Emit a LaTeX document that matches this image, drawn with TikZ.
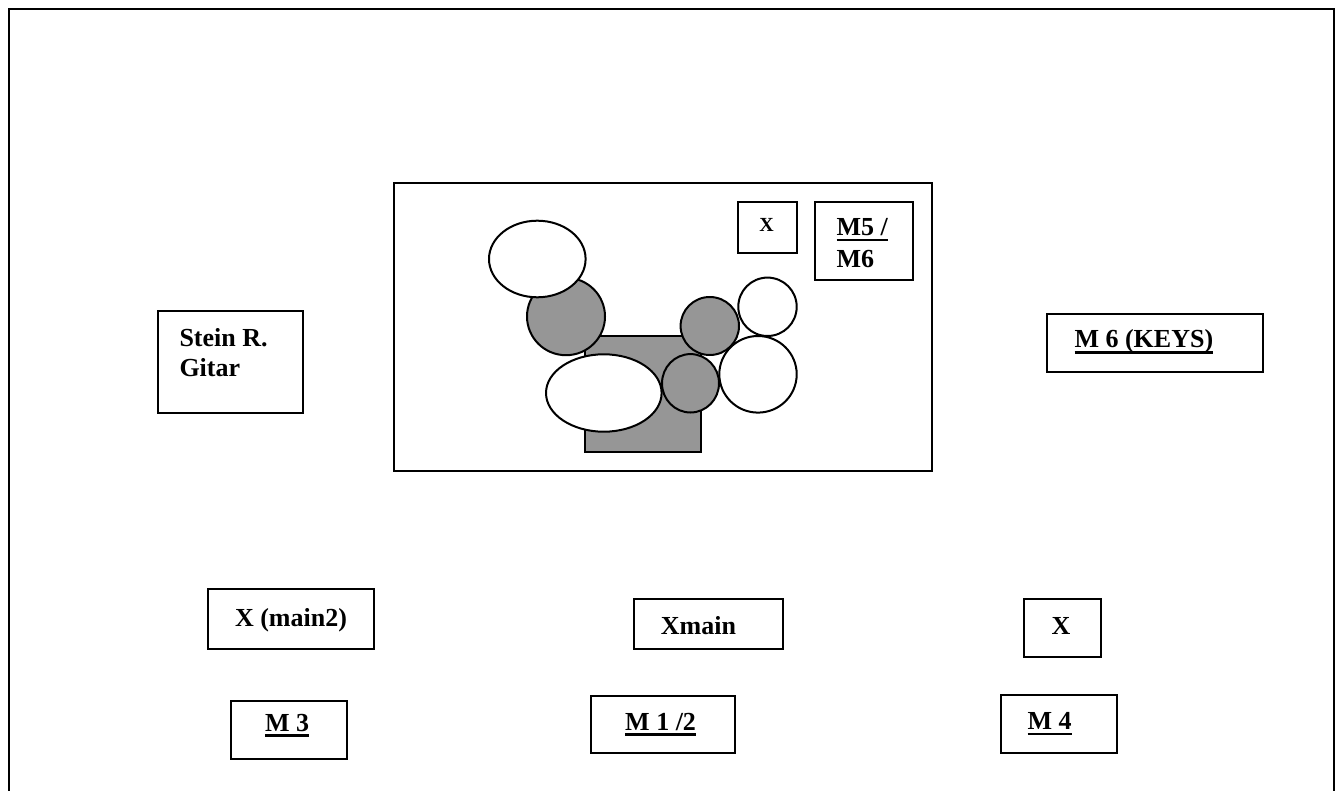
\documentclass[tikz,border=0pt]{standalone}
\usepackage{fontspec}
\setmainfont{Liberation Serif}
\definecolor{midgray}{HTML}{969696}
\newcommand\ulx[1]{\setbox0\hbox{#1}\rlap{\rule[-5.5pt]{\wd0}{2.2pt}}\box0}
\begin{document}
\begin{tikzpicture}[x=1pt,y=-1pt,
  box/.style={draw,line width=2pt,inner sep=0pt,rectangle},
  lbl/.style={inner sep=0pt,font=\fontsize{26}{30}\selectfont\bfseries},
  shp/.style={draw,line width=2pt}]
\useasboundingbox (0,0) rectangle (1343,791);
% outer frame
\draw[line width=2pt] (9.4,791) -- (9.4,9.5) -- (1334,9.5) -- (1334,791);
% stage
\node[box,minimum width=538.2pt,minimum height=287.2pt] (stage) at (662.6,327.1) {};
\filldraw[shp,fill=midgray] (585,336) rectangle (700.7,451.7);
\filldraw[shp,fill=midgray] (566,316.5) ellipse [x radius=39pt,y radius=38.7pt];
\filldraw[shp,fill=white] (537.3,259) ellipse [x radius=48.3pt,y radius=38.3pt];
\filldraw[shp,fill=white] (603.8,393) ellipse [x radius=57.8pt,y radius=38.7pt];
\filldraw[shp,fill=midgray] (709.8,326) ellipse [x radius=29.2pt,y radius=29pt];
\filldraw[shp,fill=midgray] (690.5,383.3) ellipse [x radius=28.5pt,y radius=29.2pt];
\filldraw[shp,fill=white] (767.5,306.8) ellipse [x radius=29.2pt,y radius=29.2pt];
\filldraw[shp,fill=white] (758,374.3) ellipse [x radius=38.7pt,y radius=38.3pt];
% boxes
\node[box,minimum width=58.7pt,minimum height=51.6pt] (xsmall) at (767.35,227.5) {};
\node[lbl,anchor=base,font=\fontsize{20}{24}\selectfont\bfseries] (xsmalltxt) at (766.7,231.7) {X};
\node[box,minimum width=97.9pt,minimum height=78.3pt] (m56) at (864.35,241.15) {};
\node[lbl,anchor=base west] (m56txt) at (836.3,235.8) {\vtop{\baselineskip=32pt\hbox{\ulx{M5 /}}\hbox{M6}}};
\node[box,minimum width=145pt,minimum height=102.3pt] (stein) at (230.8,362.15) {};
\node[lbl,anchor=base west] (steintxt) at (179.3,346) {\vtop{\baselineskip=30pt\hbox{Stein R.}\hbox{Gitar}}};
\node[box,minimum width=215.4pt,minimum height=57.4pt] (keys) at (1155,343) {};
\node[lbl,anchor=base west] (keystxt) at (1074.3,348) {\ulx{M 6 (KEYS)}};
\node[box,minimum width=166.6pt,minimum height=60pt] (xmain2) at (291,619.3) {};
\node[lbl,anchor=base] (xmain2txt) at (291,626.7) {X (main2)};
\node[box,minimum width=149.3pt,minimum height=50pt] (xmain) at (708.65,624.3) {};
\node[lbl,anchor=base west] (xmaintxt) at (660.7,634) {Xmain};
\node[box,minimum width=77pt,minimum height=58pt] (xright) at (1062.9,628.3) {};
\node[lbl,anchor=base] (xrighttxt) at (1061,634) {X};
\node[box,minimum width=115.7pt,minimum height=58.3pt] (m3) at (288.85,730.15) {};
\node[lbl,anchor=base west] (m3txt) at (265,731) {\ulx{M 3}};
\node[box,minimum width=144.4pt,minimum height=57.2pt] (m12) at (662.8,724.1) {};
\node[lbl,anchor=base west] (m12txt) at (625,730) {\ulx{M 1 /2}};
\node[box,minimum width=116.1pt,minimum height=58.3pt] (m4) at (1058.55,724.15) {};
\node[lbl,anchor=base west] (m4txt) at (1027.3,729.5) {\ulx{M 4}};
\end{tikzpicture}
\end{document}
